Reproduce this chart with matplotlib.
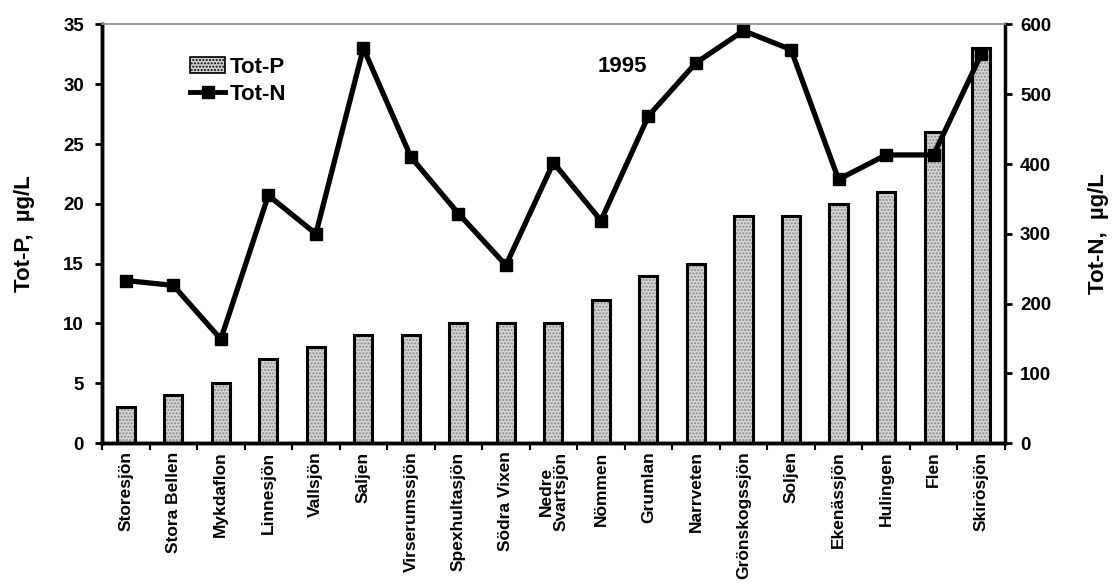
import matplotlib
matplotlib.use("Agg")
import matplotlib.pyplot as plt
import numpy as np
from matplotlib.patches import Patch
from matplotlib.lines import Line2D

plt.rcParams['font.family'] = ['Liberation Sans', 'DejaVu Sans']
plt.rcParams['font.weight'] = 'bold'

lakes = ["Storesjön", "Stora Bellen", "Mykdaflon", "Linnesjön", "Vallsjön", "Saljen",
         "Virserumssjön", "Spexhultasjön", "Södra Vixen", "Nedre\nSvartsjön", "Nömmen",
         "Grumlan", "Narrveten", "Grönskogssjön", "Soljen", "Ekenässjön", "Hulingen",
         "Flen", "Skirösjön"]
tot_p = [3, 4, 5, 7, 8, 9, 9, 10, 10, 10, 12, 14, 15, 19, 19, 20, 21, 26, 33]
tot_n = [233, 226, 149, 355, 300, 566, 410, 329, 255, 402, 319, 469, 545, 591, 564,
         378, 413, 413, 557]
p_ticks = [0, 5, 10, 15, 20, 25, 30, 35]
n_ticks = [0, 100, 200, 300, 400, 500, 600]

fig = plt.figure(figsize=(11.14, 5.83), dpi=100)
ax = fig.add_axes([0.0916, 0.240, 0.8104, 0.718])
ax2 = ax.twinx()

x = np.arange(len(lakes))
bw = 0.38
ax.bar(x, tot_p, width=bw, facecolor='#d4d4d4', edgecolor='#8a8a8a', hatch='.....',
       linewidth=0, zorder=2)
ax.bar(x, tot_p, width=bw, facecolor='none', edgecolor='black', linewidth=2.2, zorder=3)

ax2.plot(x, tot_n, color='black', linewidth=3.8, marker='s', markersize=9,
         markerfacecolor='black', markeredgecolor='black', zorder=4)

ax.set_xlim(-0.5, len(lakes) - 0.5)
ax.set_ylim(0, 35)
ax2.set_ylim(0, 600)
ax.set_yticks(p_ticks)
ax2.set_yticks(n_ticks)

ax.set_xticks(x)
ax.set_xticklabels(lakes, rotation=90, fontsize=12.5, fontweight='bold', linespacing=1.0)
ax.set_xticks(np.arange(-0.5, len(lakes)), minor=True)
ax.tick_params(axis='x', which='major', length=0, pad=6)
ax.tick_params(axis='x', which='minor', length=5, width=1.5, direction='out')
ax.tick_params(axis='y', length=5, width=2, labelsize=13.5, pad=8)
ax2.tick_params(axis='y', length=5, width=2, labelsize=13.5, pad=6)
for lab in ax.get_yticklabels() + ax2.get_yticklabels():
    lab.set_fontweight('bold')

for sp in ['left', 'bottom']:
    ax.spines[sp].set_linewidth(2.5)
ax2.spines['right'].set_linewidth(2.5)
ax2.spines['left'].set_linewidth(2.5)
ax2.spines['bottom'].set_linewidth(2.5)
for a in (ax, ax2):
    a.spines['top'].set_linewidth(1.2)
    a.spines['top'].set_color('#9a9a9a')

ax.set_ylabel("Tot-P,  µg/L", fontsize=16, fontweight='bold')
ax.yaxis.set_label_coords(-0.074, 0.5)
ax2.set_ylabel("Tot-N,  µg/L", fontsize=16, fontweight='bold')
ax2.yaxis.set_label_coords(1.092, 0.5)

ax.text(0.576, 0.90, "1995", transform=ax.transAxes, fontsize=16, fontweight='bold',
        ha='center', va='center')

handles = [Patch(facecolor='#d4d4d4', edgecolor='black', hatch='.....', linewidth=1.2),
           Line2D([0], [0], color='black', linewidth=3.5, marker='s', markersize=8)]
leg = ax2.legend(handles, ["Tot-P", "Tot-N"], loc='upper left',
                 bbox_to_anchor=(0.075, 0.97), frameon=False, fontsize=16,
                 handlelength=1.6, handletextpad=0.2, labelspacing=0.25)
for t in leg.get_texts():
    t.set_fontweight('bold')

fig.savefig("out.png", dpi=100)
